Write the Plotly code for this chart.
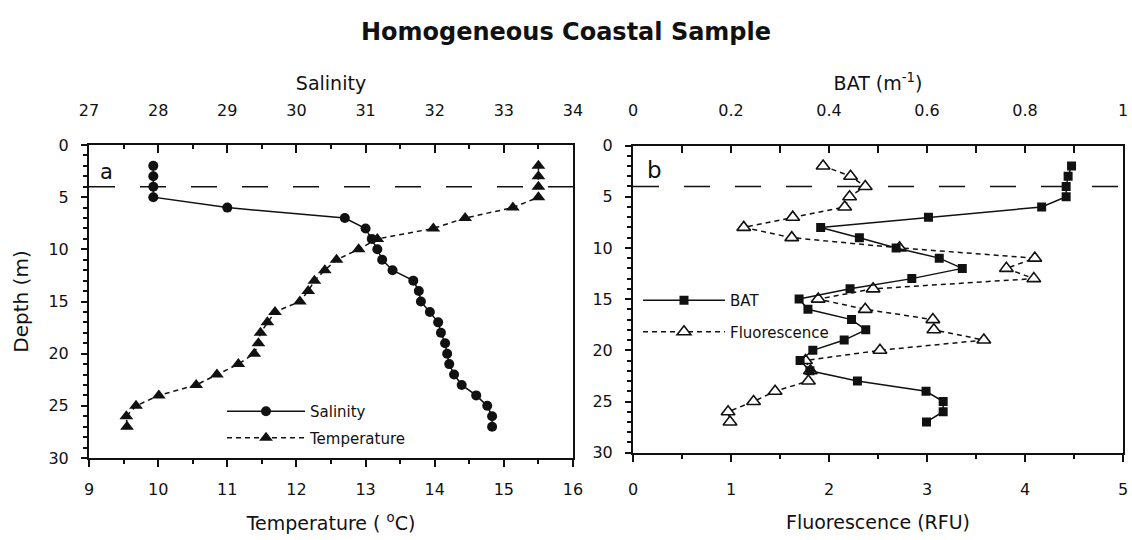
import plotly.graph_objects as go

# ---------------- data ----------------
depth = list(range(2, 28))
salinity = [27.93, 27.93, 27.93, 27.93, 29.0, 30.7, 31.0, 31.09, 31.17, 31.24, 31.39,
            31.69, 31.77, 31.80, 31.93, 32.05, 32.09, 32.15, 32.18, 32.21, 32.28,
            32.39, 32.60, 32.76, 32.83, 32.83]
temperature = [15.5, 15.5, 15.5, 15.5, 15.13, 14.44, 13.98, 13.17, 12.90, 12.58, 12.41,
               12.26, 12.17, 12.05, 11.69, 11.58, 11.48, 11.45, 11.39, 11.16, 10.85,
               10.55, 10.01, 9.68, 9.54, 9.55]
bat = [0.895, 0.888, 0.884, 0.884, 0.834, 0.603, 0.383, 0.462, 0.537, 0.625, 0.672,
       0.569, 0.443, 0.339, 0.357, 0.446, 0.475, 0.431, 0.367, 0.341, 0.361,
       0.458, 0.598, 0.633, 0.633, 0.599]
fluorescence = [1.94, 2.22, 2.37, 2.21, 2.16, 1.63, 1.13, 1.62, 2.72, 4.10, 3.81,
                4.09, 2.45, 1.89, 2.37, 3.06, 3.07, 3.58, 2.52, 1.76, 1.81,
                1.79, 1.45, 1.23, 0.97, 0.99]
mixed_layer_depth = 4

W, H = 1132, 540
FONT = "DejaVu Sans"
BLK = "#111111"


def px(x):
    return x / W


def py(y):
    return 1 - y / H


fig = go.Figure()

# Left panel
fig.add_trace(go.Scatter(
    x=salinity, y=depth, xaxis="x2", yaxis="y", name="Salinity", legend="legend",
    legendgroup="sal", legendrank=1, mode="lines+markers", line=dict(color=BLK, width=1.5),
    marker=dict(symbol="circle", size=10, color=BLK)))
fig.add_trace(go.Scatter(
    x=temperature, y=depth, xaxis="x", yaxis="y", name="Temperature", legend="legend",
    legendgroup="tem", legendrank=2, mode="lines+markers",
    line=dict(color=BLK, width=1.5, dash="5px,4px"),
    marker=dict(symbol="triangle-up", size=12, color=BLK)))

# Right panel
fig.add_trace(go.Scatter(
    x=fluorescence, y=depth, xaxis="x3", yaxis="y2", name="Fluorescence", legend="legend2",
    legendgroup="flu", legendrank=2, mode="lines+markers",
    line=dict(color=BLK, width=1.5, dash="5px,4px"),
    marker=dict(symbol="triangle-up", size=12, color="white", line=dict(color=BLK, width=1.6))))
fig.add_trace(go.Scatter(
    x=bat, y=depth, xaxis="x4", yaxis="y2", name="BAT", legend="legend2",
    legendgroup="bat", legendrank=1, mode="lines+markers", line=dict(color=BLK, width=1.5),
    marker=dict(symbol="square", size=9, color=BLK)))

tickfont = dict(family=FONT, size=16, color=BLK)
titlefont = dict(family=FONT, size=19, color=BLK)

common_x = dict(showline=True, linecolor=BLK, linewidth=2, showgrid=False, zeroline=False,
                tickfont=tickfont, tickcolor=BLK, tickwidth=1.5, automargin=False)

left_dom = [px(89), px(573)]
right_dom = [px(633), px(1123)]

fig.update_layout(
    width=W, height=H,
    margin=dict(l=0, r=0, t=0, b=0),
    paper_bgcolor="white", plot_bgcolor="white",
    font=dict(family=FONT, color=BLK),
    title=dict(text="<b>Homogeneous Coastal Sample</b>", x=0.5, xanchor="center",
               y=py(32), yanchor="middle", font=dict(family=FONT, size=24, color=BLK),
               automargin=False),
    xaxis=dict(domain=left_dom, anchor="y", range=[9, 16], dtick=1, side="bottom",
               ticks="outside", ticklen=7, ticklabelstandoff=9,
               minor=dict(dtick=0.5, ticks="outside", ticklen=4, tickcolor=BLK),
               title=dict(text="Temperature ( <sup>o</sup>C)", font=titlefont, standoff=18),
               **common_x),
    xaxis2=dict(domain=left_dom, anchor="y", overlaying="x", range=[27, 34], dtick=1, side="top",
                ticks="inside", ticklen=8, ticklabelstandoff=21,
                minor=dict(dtick=0.5, ticks="inside", ticklen=4, tickcolor=BLK),
                title=dict(text="Salinity", font=titlefont, standoff=5),
                **common_x),
    yaxis=dict(domain=[py(458), py(145)], anchor="x", range=[30, 0], dtick=5,
               showline=True, mirror=True, linecolor=BLK, linewidth=2, showgrid=False, zeroline=False,
               ticks="outside", ticklen=6, tickwidth=1.5, tickcolor=BLK, tickfont=tickfont,
               ticklabelstandoff=9, automargin=False,
               minor=dict(dtick=1, ticks="outside", ticklen=4, tickcolor=BLK),
               title=dict(text="Depth (m)", font=dict(family=FONT, size=20, color=BLK), standoff=14)),
    xaxis3=dict(domain=right_dom, anchor="y2", range=[0, 5], dtick=1, side="bottom",
                ticks="outside", ticklen=7, ticklabelstandoff=14,
                minor=dict(dtick=0.5, ticks="outside", ticklen=4, tickcolor=BLK),
                title=dict(text="Fluorescence (RFU)", font=titlefont, standoff=18),
                **common_x),
    xaxis4=dict(domain=right_dom, anchor="y2", overlaying="x3", range=[0, 1], dtick=0.2, side="top",
                ticks="inside", ticklen=7, ticklabelstandoff=21,
                minor=dict(dtick=0.1, ticks="inside", ticklen=7, tickcolor=BLK),
                title=dict(text="BAT (m<sup>-1</sup>)", font=titlefont, standoff=5),
                **common_x),
    yaxis2=dict(domain=[py(452.7), py(145.5)], anchor="x3", range=[30, 0], dtick=5,
                showline=True, mirror=True, linecolor=BLK, linewidth=2, showgrid=False, zeroline=False,
                ticks="outside", ticklen=6, tickwidth=1.5, tickcolor=BLK, tickfont=tickfont,
                ticklabelstandoff=9, automargin=False,
                minor=dict(dtick=1, ticks="outside", ticklen=4, tickcolor=BLK)),
    legend=dict(x=px(222), y=py(395), xanchor="left", yanchor="top", bgcolor="rgba(0,0,0,0)",
                itemwidth=78, font=dict(family=FONT, size=15, color=BLK), traceorder="grouped",
                tracegroupgap=4),
    legend2=dict(x=px(638), y=py(284), xanchor="left", yanchor="top", bgcolor="rgba(0,0,0,0)",
                 itemwidth=82, font=dict(family=FONT, size=15, color=BLK), traceorder="grouped",
                 tracegroupgap=9),
    showlegend=True,
)

# mixed layer depth dashed lines
for xr, yr in (("x domain", "y"), ("x3 domain", "y2")):
    fig.add_shape(type="line", xref=xr, yref=yr, x0=0, x1=1, y0=mixed_layer_depth, y1=mixed_layer_depth,
                  line=dict(color=BLK, width=1.5, dash="26px,25px"), layer="below")

# panel labels
fig.add_annotation(text="a", xref="x", yref="y", x=9.25, y=2.6,
                   showarrow=False, font=dict(family=FONT, size=21, color=BLK))
fig.add_annotation(text="b", xref="x3", yref="y2", x=0.22, y=2.4,
                   showarrow=False, font=dict(family=FONT, size=23, color=BLK))

fig.write_html("out.html")
